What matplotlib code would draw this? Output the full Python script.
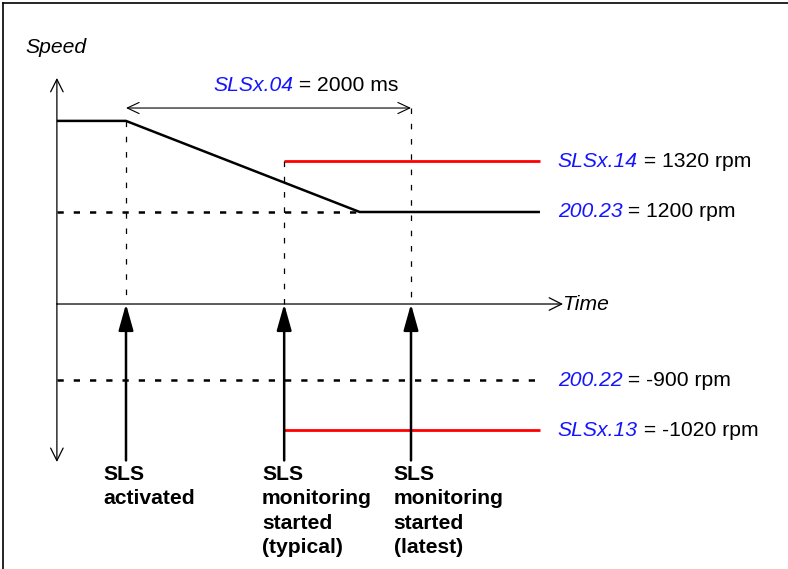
import matplotlib
matplotlib.use("Agg")
import matplotlib.pyplot as plt
from matplotlib.lines import Line2D

plt.rcParams['font.family'] = ['Liberation Sans', 'DejaVu Sans']
plt.rcParams['lines.scale_dashes'] = False

# ---- data (time in ms, speed in schematic units: 1.0 = level of 200.23) ----
event_times = [0, 1110, 2000]
event_labels = ["SLS\nactivated",
                "SLS\nmonitoring\nstarted\n(typical)",
                "SLS\nmonitoring\nstarted\n(latest)"]
profile_t = [-485, 0, 1640, 2905]
profile_v = [1.99, 1.99, 1.0, 1.0]
limit_names = ["SLSx.14", "200.23", "200.22", "SLSx.13"]
limit_values = ["1320 rpm", "1200 rpm", "-900 rpm", "-1020 rpm"]
limit_levels = [1.55, 1.0, -0.83, -1.37]
limit_start = [1110, -485, -485, 1110]
limit_kind = ["red", "dash", "dash", "red"]
delay_name = "SLSx.04"
delay_value = "2000 ms"

# ---- layout helpers ----
T0, T1 = -485, 2905          # extent of drawn lines
TA = 3067                    # end of time axis
V_TOP, V_BOT = 2.457, -1.717 # speed axis ends
TXT_X = 3030

fig = plt.figure(figsize=(7.88, 5.69), dpi=100)
ax = fig.add_axes([0, 0, 1, 1])
ax.set_xlim(-884.2, 4645.6)
ax.set_ylim(-2.880, 3.304)
ax.axis('off')

# frame lines (top and left)
fig.add_artist(Line2D([3/788, 3/788], [0, 1 - 3/569], color='black', lw=1.2, transform=fig.transFigure))
fig.add_artist(Line2D([3/788, 1], [1 - 3/569, 1 - 3/569], color='black', lw=1.2, transform=fig.transFigure))

FS = 15.2
open_head = dict(arrowstyle='->,head_length=0.9,head_width=0.45', lw=0.9, color='black',
                 mutation_scale=10, shrinkA=0, shrinkB=0)

# speed axis (both directions)
ax.annotate('', xy=(T0, V_TOP), xytext=(T0, 0), arrowprops=open_head)
ax.annotate('', xy=(T0, V_BOT), xytext=(T0, 0), arrowprops=open_head)
# time axis
ax.annotate('', xy=(TA, 0), xytext=(T0, 0), arrowprops=open_head)
ax.text(TA - 10, 0, "Time", fontsize=FS, style='italic', ha='left', va='center')
ax.text(-705, 2.79, "Speed", fontsize=FS, style='italic', ha='left', va='center')

# speed profile
ax.plot(profile_t, profile_v, color='black', lw=1.8, solid_capstyle='butt')

# limit lines
for lvl, st, kind in zip(limit_levels, limit_start, limit_kind):
    if kind == 'red':
        ax.plot([st, T1], [lvl, lvl], color='#ff0000', lw=2.0, solid_capstyle='butt')
    else:
        end = profile_t[2] if lvl > 0 else T1
        ax.plot([st, end], [lvl, lvl], color='black', lw=1.8, dashes=(4.5, 7.2))

# right-hand labels
for lvl, nm, val in zip(limit_levels, limit_names, limit_values):
    t1 = ax.text(TXT_X, lvl, nm, fontsize=FS, style='italic', color='#1414ff', ha='left', va='center')
    ax.annotate(" = " + val, xy=(1, 0), xycoords=t1, fontsize=FS, color='black', ha='left', va='bottom')

# vertical dashed guides
guide_tops = [profile_v[1], limit_levels[0], 2.13]
for t, top in zip(event_times, guide_tops):
    ax.plot([t, t], [top, 0], color='black', lw=0.9, dashes=(4.0, 7.0))

# delay double arrow
ax.annotate('', xy=(event_times[0], 2.13), xytext=(event_times[2], 2.13),
            arrowprops=dict(arrowstyle='<->,head_length=0.85,head_width=0.4', lw=0.8,
                            color='black', mutation_scale=10, shrinkA=0, shrinkB=0))
td = ax.text(610, 2.37, delay_name, fontsize=FS, style='italic', color='#1414ff', ha='left', va='center')
ax.annotate(" = " + delay_value, xy=(1, 0), xycoords=td, fontsize=FS, color='black', ha='left', va='bottom')

# event arrows and labels
label_dx = [-16.5, -16.0, -12.5]
for t, lab, dx in zip(event_times, event_labels, label_dx):
    ax.annotate('', xy=(t, 0), xytext=(t, -1.70),
                arrowprops=dict(arrowstyle='-|>,head_length=1.6,head_width=0.45', lw=1.8,
                                color='black', mutation_scale=10, shrinkA=0, shrinkB=0))
    ax.annotate(lab, xy=(t, -1.75), xytext=(dx, 0), textcoords='offset points',
                fontsize=FS, fontweight='bold', ha='left', va='top', linespacing=1.36)

fig.savefig('out.png', dpi=100)
